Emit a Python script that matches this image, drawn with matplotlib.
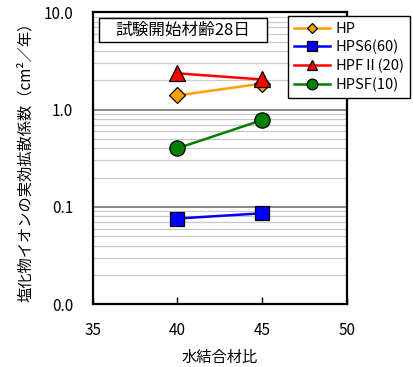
import numpy as np
import matplotlib
matplotlib.use("Agg")
import matplotlib.pyplot as plt
from matplotlib.patches import Rectangle
from matplotlib.ticker import FixedLocator, FixedFormatter, NullFormatter

plt.rcParams['font.family'] = ['Noto Sans CJK JP', 'DejaVu Sans']

# データ（水結合材比, 実効拡散係数）
wb = [40, 45]
hp = [1.40, 1.85]
hps6 = [0.076, 0.086]
hpf2 = [2.36, 2.04]
hpsf = [0.40, 0.78]

series_names = ["HP", "HPS6(60)", "HPFⅡ(20)", "HPSF(10)"]
x_ticks = [35, 40, 45, 50]
y_ticks = [0.01, 0.1, 1, 10]
y_tick_labels = ["0.0", "0.1", "1.0", "10.0"]

fig = plt.figure(figsize=(4.14, 3.67), dpi=100)
ax = fig.add_axes([0.224, 0.171, 0.6135, 0.7955])

ax.set_yscale('log')
ax.set_xlim(35, 50)
ax.set_ylim(0.01, 10)

# 補助目盛線
minor = [m * d for d in [0.01, 0.1, 1] for m in range(2, 10)]
for v in minor:
    ax.axhline(v, color='#c8c8c8', lw=0.9, zorder=0)
for v in [0.1, 1]:
    ax.axhline(v, color='#808080', lw=1.3, zorder=0)

styles = [
    (hp, '#FFA000', 'D', 8),
    (hps6, '#0000FF', 's', 10),
    (hpf2, '#FF0000', '^', 11),
    (hpsf, '#008000', 'o', 11),
]
for (vals, c, m, ms), name in zip(styles, series_names):
    ax.plot(wb, vals, color=c, lw=1.8, marker=m, markersize=ms,
            markerfacecolor=c, markeredgecolor='black', markeredgewidth=0.9,
            label=name, zorder=3)

ax.yaxis.set_major_locator(FixedLocator(y_ticks))
ax.yaxis.set_major_formatter(FixedFormatter(y_tick_labels))
ax.yaxis.set_minor_formatter(NullFormatter())
ax.tick_params(axis='y', which='both', length=0, labelsize=11, pad=14)
ax.set_xticks(x_ticks)
ax.tick_params(axis='x', direction='in', length=5, width=1, labelsize=11, pad=13)

for s in ax.spines.values():
    s.set_linewidth(1.6)

ax.set_xlabel("水結合材比", fontsize=11, labelpad=7)
ax.set_ylabel("塩化物イオンの実効拡散係数（cm²／年）", fontsize=11, labelpad=7)

# 試験条件の枠
ax.add_patch(Rectangle((0.025, 0.898), 0.661, 0.0825, transform=ax.transAxes,
                       facecolor='white', edgecolor='black', lw=1, zorder=4))
ax.text(0.355, 0.939, "試験開始材齢28日", transform=ax.transAxes, fontsize=12,
        ha='center', va='center', zorder=5)

leg = ax.legend(loc='upper left', bbox_to_anchor=(287.7 / 414, 1 - 16 / 367),
                bbox_transform=fig.transFigure, fontsize=10.5, frameon=True,
                fancybox=False, edgecolor='black', framealpha=1, markerscale=0.7,
                handlelength=2.5, handletextpad=0.35, borderpad=0.4,
                labelspacing=0.28, borderaxespad=0)
leg.get_frame().set_linewidth(1)

fig.savefig("out.png", dpi=100)
